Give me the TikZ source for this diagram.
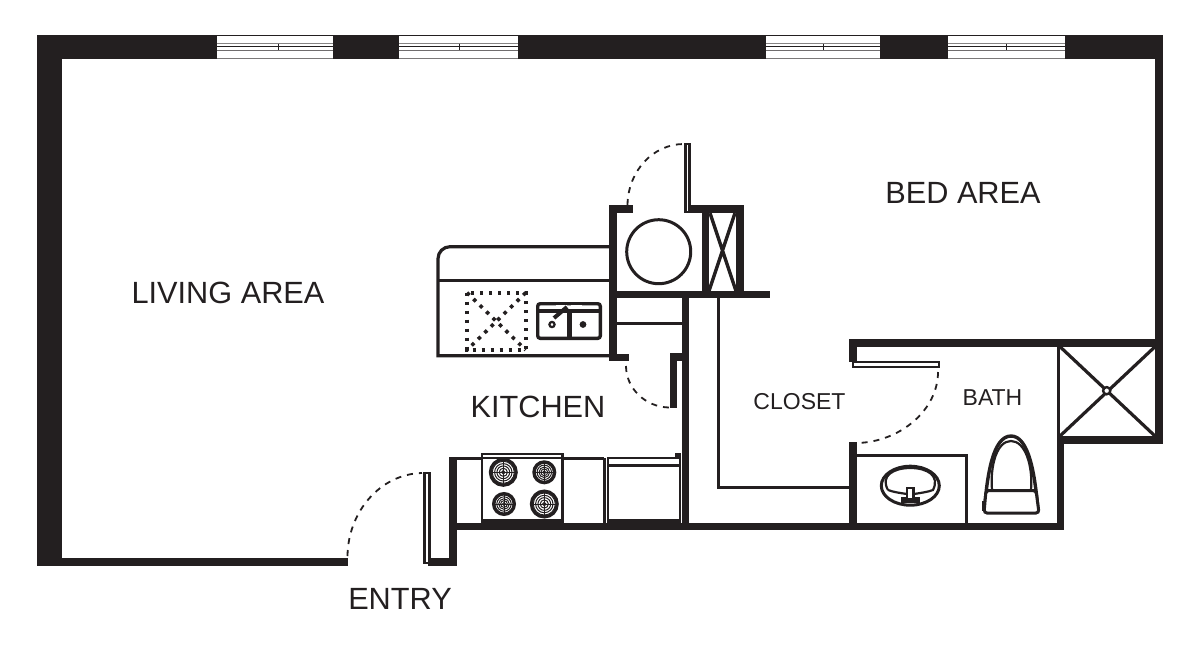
\documentclass[tikz,border=0pt]{standalone}
\usepackage{fontspec}
\setmainfont{Liberation Sans}
\definecolor{wall}{HTML}{231F20}
\newcommand{\burnerat}[3]{%
  \draw[ln,line width=3.2pt] (#1,#2) circle (#3-1.6);
  \foreach \q in {0.76,0.6,0.44,0.28,0.12}{\draw[ln,line width=1pt] (#1,#2) circle ({(#3)*\q});}
  \foreach \a in {0,90,180,270}{\draw[ln,line width=0.9pt] (#1,#2) -- ++(\a:#3-2);}
}
\tikzset{
  x=1pt,y=-1pt,
  wallfill/.style={fill=wall,draw=none},
  ln/.style={draw=wall,line width=3pt},
  thin ln/.style={draw=wall,line width=2.4pt},
  slab/.style={draw=wall,line width=2.6pt,fill=white},
  swing/.style={draw=wall,line width=1.8pt,dash pattern=on 6pt off 6pt},
  dotbox/.style={draw=wall,line width=3.6pt,dash pattern=on 3.5pt off 5.5pt},
  big/.style={text=wall,inner sep=0pt,font=\fontsize{30.7}{30.7}\selectfont},
  mid/.style={text=wall,inner sep=0pt,font=\fontsize{30.7}{30.7}\selectfont},
  small/.style={text=wall,inner sep=0pt,font=\fontsize{23}{23}\selectfont},
  winline/.style={draw=wall,line width=0.9pt},
}
\begin{document}
\begin{tikzpicture}
\useasboundingbox (0,0) rectangle (1200,649);
% outer walls
\fill[wallfill] (37,34.5) rectangle (1162.5,59);
\fill[wallfill] (37,34.5) rectangle (62,566);
\fill[wallfill] (37,558) rectangle (348,566);
\fill[wallfill] (1155,59) rectangle (1162.5,444);
\fill[wallfill] (849,339) rectangle (1162.5,346.7);
\fill[wallfill] (1057,436) rectangle (1162.5,444);
\fill[wallfill] (1057,436) rectangle (1064,530);
\fill[wallfill] (449,522.7) rectangle (1064,530);
\fill[wallfill] (449,457) rectangle (457,566);
\fill[wallfill] (428,558) rectangle (457,566);
% windows
\foreach \xa/\xb/\xt in {216.7/333/278, 399/518/459, 766/880/823, 947.7/1065/1006}{
  \fill[white] (\xa,35.5) rectangle (\xb,58.2);
  \draw[winline,draw=wall!55] (\xa,43.5) -- (\xb,43.5);
  \draw[winline] (\xa,46.3) -- (\xb,46.3);
  \draw[winline,draw=wall!65] (\xa,50) -- (\xb,50);
  \draw[winline] (\xt,43.5) -- (\xt,50);
  \draw[winline,draw=wall!60] (\xa,58.6) -- (\xb,58.6);
}
% interior walls
\fill[wallfill] (609,205) rectangle (617,360.7);
\fill[wallfill] (609,205) rectangle (632.7,213);
\fill[wallfill] (609,354) rectangle (629,360.7);
\fill[wallfill] (685,205) rectangle (744,213);
\fill[wallfill] (609,291) rectangle (770,297.7);
\fill[wallfill] (701.7,205) rectangle (708.5,297);
\fill[wallfill] (736,205) rectangle (744,297);
\fill[wallfill] (682,291) rectangle (689,530);
\fill[wallfill] (670,352.7) rectangle (682,360.7);
\fill[wallfill] (670,352.7) rectangle (676.7,408);
\fill[wallfill] (849,339) rectangle (857,362);
\fill[wallfill] (849,441.7) rectangle (857,530);
% door slabs
\draw[slab] (685.3,144) rectangle (689.3,212);
\draw[slab] (424.3,473) rectangle (429.7,563);
\draw[slab] (853,362) rectangle (939,367);
% door swings
\draw[swing] (627.5,205) .. controls (628,171) and (653,144) .. (684,144);
\draw[swing] (626,366) .. controls (626,388) and (645,407) .. (669,407.5);
\draw[swing] (347.5,556) .. controls (348,512) and (380,474) .. (422,473);
\draw[swing] (938,372) .. controls (938,410) and (900,442) .. (857,443);
% closet and utility
\draw[ln] (658.7,251.7) circle (32);
\draw[ln,line width=3.4pt] (710,213) -- (736,291) (735,213) -- (709,291);
\draw[ln] (617,323) -- (682,323);
\draw[ln] (718,297) -- (718,487) -- (849,487);
% kitchen counter
\draw[draw=wall,line width=3.2pt] (609,246.7) -- (450,246.7) arc[start angle=-90,end angle=-180,radius=12] -- (438,355.7) -- (609,355.7);
\draw[draw=wall,line width=3.2pt] (438,280.7) -- (609,280.7);
% dotted box
\draw[dotbox] (467,292.7) rectangle (525.7,350);
\draw[dotbox] (467,292.7) -- (525.7,350) (525.7,292.7) -- (467,350);
% sink
\draw[draw=wall,line width=3.4pt,rounded corners=2.5pt] (537.7,303.7) rectangle (600.3,338.3);
\draw[draw=wall,line width=3.6pt] (539,311) -- (599,311);
\draw[draw=wall,line width=5pt] (569,311) -- (569,338);
\draw[draw=white,line width=1.8pt,dash pattern=on 11pt off 4pt] (556,305.5) -- (582,305.5);
\draw[draw=wall,line width=4pt] (554,318) -- (567,307);
\draw[draw=wall,line width=2.2pt,fill=white] (552,324.5) circle (2.6);
\fill[wall] (583,324.5) circle (3.4);
% kitchen base cabinets
\draw[draw=wall,line width=3pt] (457,458) -- (482,458) (562,458) -- (604,458);
\draw[draw=wall,line width=3pt] (604,458) -- (604,523);
\draw[thin ln] (482,523) -- (482,454) -- (562.5,454) -- (562.5,523);
\draw[thin ln] (482,458) -- (562.5,458);
\fill[wallfill] (482,519) rectangle (562.5,523);
\burnerat{503.3}{472.3}{14.5}
\burnerat{544.3}{472.3}{12}
\burnerat{504}{504}{12}
\burnerat{544.3}{504}{14.5}
% appliance
\draw[thin ln] (608,523) -- (608,458) -- (680,458);
\draw[thin ln] (608,465.5) -- (680,465.5);
\draw[thin ln] (680,458) -- (680,523);
\fill[wallfill] (608,519) rectangle (680,523);
\fill[wallfill] (674.5,453) rectangle (681,459);
% vanity
\draw[ln] (857,455) -- (966,455) -- (966,523);
\draw[ln] (910.3,485.7) ellipse (29 and 19.5);
\draw[ln,line width=2.2pt] (888,490) .. controls (880,476) and (893,468) .. (910.3,468) .. controls (928,468) and (940,476) .. (933,490) .. controls (928,492) and (920,493) .. (914,494) (907,494) .. controls (900,493) and (893,492) .. (888,490);
\fill[wall] (901,497) rectangle (920,503);
\draw[draw=wall,line width=2.2pt,fill=white] (907,488) rectangle (913.5,499);
% toilet
\draw[ln,line width=3.4pt] (984.5,510) .. controls (987,475) and (993,436) .. (1011,436) .. controls (1029,436) and (1035,475) .. (1038,510);
\draw[draw=wall,line width=2.2pt] (992,490) .. controls (990,465) and (997,441) .. (1011,441) .. controls (1025,441) and (1033,465) .. (1031,490);
\draw[ln,fill=white,rounded corners=3pt] (986,490.5) -- (1036,490.5) -- (1039,513) -- (984,513) -- cycle;
\fill[wall] (982,501) rectangle (985,511);
% shower
\draw[draw=wall,line width=3pt] (1058.5,346) -- (1058.5,437);
\draw[ln,line width=3.2pt] (1060,346.7) -- (1155,436) (1155,346.7) -- (1060,436);
\draw[draw=wall,line width=2.4pt,fill=white] (1106.7,390.7) circle (3.6);
% labels
\node[big] (living) at (228,292.5) {LIVING AREA};
\node[big] (bed) at (963,193) {BED AREA};
\node[mid] (kitchen) at (538,407) {KITCHEN};
\node[mid] (entry) at (400,599) {ENTRY};
\node[small] (closet) at (799.5,402) {CLOSET};
\node[small] (bath) at (992.5,398) {BATH};
\end{tikzpicture}
\end{document}
